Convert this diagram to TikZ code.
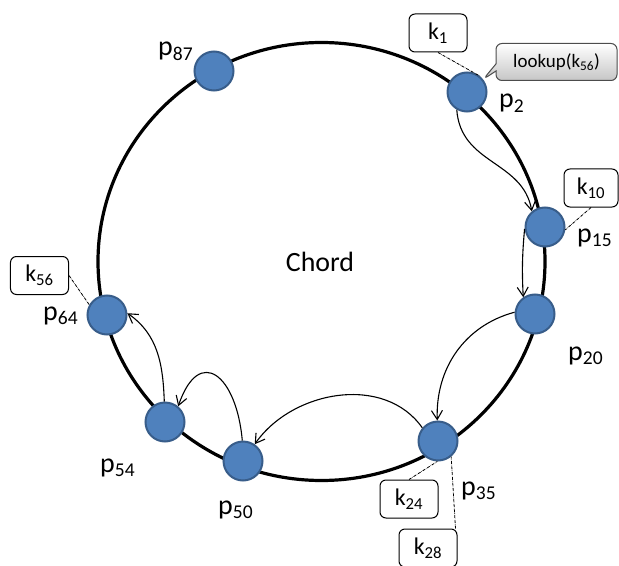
\documentclass[tikz,border=0pt]{standalone}
\usepackage{fontspec}
\setmainfont{Carlito}
\usetikzlibrary{arrows.meta, shapes.callouts}
\definecolor{peerfill}{HTML}{4F81BD}
\definecolor{peerline}{HTML}{385D8A}
\tikzset{
    >={Straight Barb[length=9bp, width=11bp]}
}

\begin{document}
\begin{tikzpicture}[x=1bp, y=1bp, font=\fontsize{28}{30}\selectfont,
    peer/.style={circle, fill=peerfill, draw=peerline, line width=2bp,
        minimum size=39bp, inner sep=0pt},
    keybox/.style={draw, fill=white, rounded corners=6bp, line width=1bp,
        minimum width=58bp, minimum height=38bp, inner sep=0pt,
        font=\fontsize{24}{26}\selectfont},
    querybox/.style={rectangle callout, draw=gray!60!black, line width=1bp,
        top color=white, bottom color=gray!45, rounded corners=6bp,
        minimum width=121bp, minimum height=37bp, inner sep=0pt,
        font=\fontsize{19}{21}\selectfont},
    hop/.style={->, line width=1.1bp},
    owns/.style={densely dashdotted, line width=0.8bp}]
    \useasboundingbox (0,0) rectangle (619,-566);

    % the ring
    \draw[line width=3.2bp] (321.5,-261.5) ellipse [x radius=223.5, y radius=219];
    \node (chord) at (320,-262) {Chord};

    % peers on the ring and their names
    \foreach \id/\x/\y in {87/214/71, 2/467/92, 15/545/227, 20/535/314,
            35/438/441, 50/243/461, 54/165/422, 64/107/315}{
        \node[peer] (p\id) at (\x,-\y) {};
    }
    \foreach \id/\x/\y in {87/158/56, 2/499/108, 15/577/242, 20/568/360,
            35/461/495, 50/218/514, 54/100/472, 64/43/320}{
        \node[anchor=base west, inner sep=0pt] (l\id) at (\x,-\y) {p\textsubscript{\id}};
    }

    % keys held by the peers
    \node[keybox] (k1) at (438,-33) {k\textsubscript{1}};
    \node[keybox, minimum width=54bp] (k10) at (591,-188) {k\textsubscript{10}};
    \node[keybox] (k24) at (409,-499) {k\textsubscript{24}};
    \node[keybox] (k28) at (428,-548) {k\textsubscript{28}};
    \node[keybox] (k56) at (39.5,-275.5) {k\textsubscript{56}};
    \draw[owns] (k1.south) -- (p2.50);
    \draw[owns] (k10.south) -- (p15.-8);
    \draw[owns] (k24.north) -- (p35.-92);
    \draw[owns] ([xshift=-2bp]k28.north east) -- (p35.-50);
    \draw[owns] (k56.east) -- (p64.150);

    % the query and its hops
    \node[querybox, callout absolute pointer={(p2.38)}] (query) at (556.5,-62)
        {lookup(k\textsubscript{56})};
    \draw[hop] (p2.240) .. controls +(4,-55) and +(-9,51) .. (p15.130);
    \draw[hop] (p15.185) to[bend right=4] (p20.125);
    \draw[hop] (p20.175) to[out=195, in=92] (p35.92);
    \draw[hop] (p35.140) to[out=125, in=55] (p50.55);
    \draw[hop] (p50.92) to[out=95, in=71, looseness=2.3] (p54.50);
    \draw[hop] (p54.92) to[out=92, in=-35] (p64.5);
\end{tikzpicture}
\end{document}
